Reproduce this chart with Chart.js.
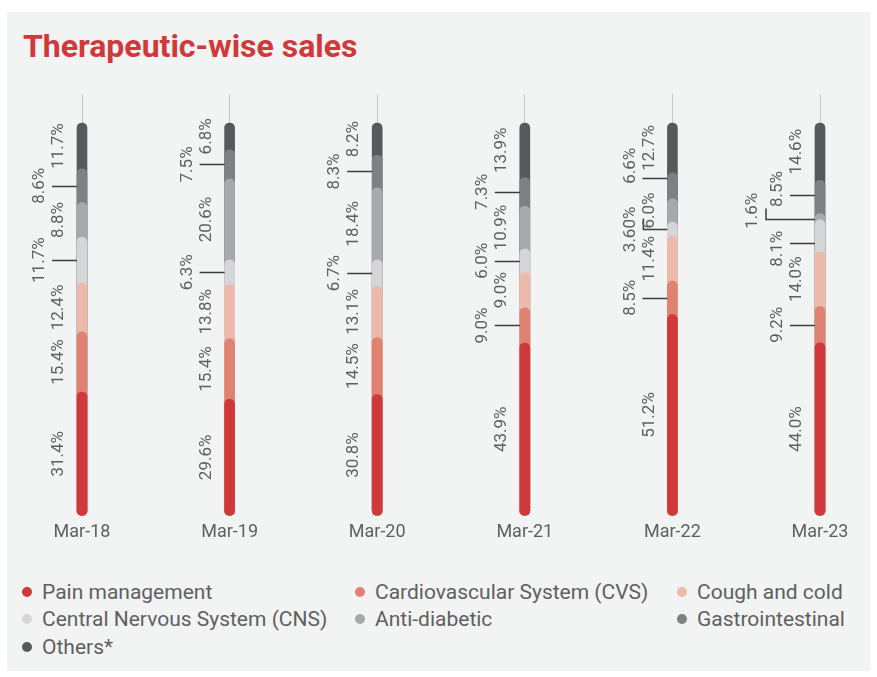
<!DOCTYPE html>
<html>
<head>
<meta charset="utf-8">
<script src="https://cdn.jsdelivr.net/npm/chart.js@4.4.1/dist/chart.umd.min.js"></script>
<style>
    body { margin: 0; background: #ffffff; font-family: Roboto, sans-serif; }
    #panel { position: absolute; left: 7px; top: 12px; width: 863px; height: 659px; background: #f2f3f3; }
    #title { position: absolute; left: 16px; top: 18px; margin: 0; font-size: 32px; line-height: 32px; font-weight: 700; color: #d0393a; }
    #chart-box { position: absolute; left: 0; top: 0; }
    #legend { position: absolute; left: 15px; top: 566px; display: grid; grid-template-columns: 333px 322px auto; }
    .item { display: flex; align-items: center; height: 27.5px; font-size: 21px; color: #5f6062; white-space: nowrap; }
    .dot { width: 10px; height: 10px; border-radius: 50%; margin-right: 10px; flex: none; }
</style>
</head>
<body>
<div id="panel">
    <h1 id="title">Therapeutic-wise sales</h1>
    <div id="chart-box"><canvas id="sales-chart" width="863" height="540"></canvas></div>
    <div id="legend"></div>
</div>
<script>
const periods = ['Mar-18', 'Mar-19', 'Mar-20', 'Mar-21', 'Mar-22', 'Mar-23'];

const painManagement   = [31.4, 29.6, 30.8, 43.9, 51.2, 44.0];
const cardiovascular   = [15.4, 15.4, 14.5, 9.0, 8.5, 9.2];
const coughAndCold     = [12.4, 13.8, 13.1, 9.0, 11.4, 14.0];
const centralNervous   = [11.7, 6.3, 6.7, 6.0, 3.6, 8.1];
const antiDiabetic     = [8.8, 20.6, 18.4, 10.9, 6.0, 1.6];
const gastrointestinal = [8.6, 7.5, 8.3, 7.3, 6.6, 8.5];
const others           = [11.7, 6.8, 8.2, 13.9, 12.7, 14.6];

// bottom of the bar upwards
const series = [
    { name: 'Pain management', values: painManagement, color: '#d0393b' },
    { name: 'Cardiovascular System (CVS)', values: cardiovascular, color: '#e08272' },
    { name: 'Cough and cold', values: coughAndCold, color: '#edb9ab' },
    { name: 'Central Nervous System (CNS)', values: centralNervous, color: '#d6d6d8' },
    { name: 'Anti-diabetic', values: antiDiabetic, color: '#a8a9ac' },
    { name: 'Gastrointestinal', values: gastrointestinal, color: '#7f8083' },
    { name: 'Others*', values: others, color: '#58595b' }
];

// where each value label sits: 0 next to bar, 1 further out with a line,
// 2 further out with a hooked line, 3 outermost with a hooked line
const labelColumns = [
    [0, 0, 0, 1, 0, 1, 0],
    [0, 0, 0, 1, 0, 1, 0],
    [0, 0, 0, 1, 0, 1, 0],
    [0, 1, 0, 1, 0, 1, 0],
    [0, 1, 0, 2, 0, 1, 0],
    [0, 1, 0, 1, 3, 1, 0]
];
const labelOverride = { 'Mar-22|Central Nervous System (CNS)': '3.60%' };
// small nudges (px) so crowded labels don't collide: line / text
const labelShift = {
    'Mar-22|Gastrointestinal': [-8, -20],
    'Mar-23|Gastrointestinal': [-2, -8],
    'Mar-23|Anti-diabetic': [2, -6],
    'Mar-23|Central Nervous System (CNS)': [7, 13]
};

const Y_MAX = 107.4; // leaves room for the thin line above each bar

// each bar is drawn from zero up to its running total, lowest series on top
const datasets = series.map((s, k) => ({
    label: s.name,
    data: periods.map((p, i) => series.slice(0, k + 1).reduce((sum, t) => sum + t.values[i], 0)),
    backgroundColor: s.color,
    barThickness: 10,
    borderRadius: 5,
    borderSkipped: false,
    grouped: false,
    clip: false
}));

const valueLabels = {
    id: 'valueLabels',
    afterDatasetsDraw(chart) {
        const { ctx, scales: { x, y } } = chart;
        const offsets = [-23, -42, -42, -67];
        ctx.save();
        ctx.font = '17px Roboto';
        ctx.fillStyle = '#5f6062';
        ctx.strokeStyle = '#3c3c3c';
        ctx.lineWidth = 1.5;
        ctx.textAlign = 'center';
        ctx.textBaseline = 'middle';
        periods.forEach((p, i) => {
            const cx = x.getPixelForValue(i);
            let base = 0;
            series.forEach((s, k) => {
                const v = s.values[i];
                const key = p + '|' + s.name;
                const shift = labelShift[key] || [0, 0];
                const mid = y.getPixelForValue(base + v / 2);
                base += v;
                const ym = Math.round(mid + shift[0]) + 0.5;
                const col = labelColumns[i][k];
                const tx = cx + offsets[col];
                ctx.beginPath();
                if (col === 1) {
                    ctx.moveTo(cx - 30, ym);
                    ctx.lineTo(cx - 5, ym);
                } else if (col >= 2) {
                    const bx = tx + 13;
                    ctx.moveTo(bx, ym - 11);
                    ctx.lineTo(bx, ym);
                    ctx.lineTo(cx - 5, ym);
                }
                ctx.stroke();
                const text = labelOverride[key] || v.toFixed(1) + '%';
                ctx.save();
                ctx.translate(tx, mid + shift[1]);
                ctx.rotate(-Math.PI / 2);
                ctx.fillText(text, 0, 0);
                ctx.restore();
            });
        });
        ctx.restore();
    }
};

Chart.defaults.font.family = 'Roboto';

const ctx = document.getElementById('sales-chart').getContext('2d');
const salesChart = new Chart(ctx, {
    type: 'bar',
    data: { labels: periods, datasets: datasets },
    options: {
        responsive: false,
        animation: false,
        devicePixelRatio: 1,
        layout: { padding: { left: 75, right: 50, top: 82, bottom: 3 } },
        plugins: {
            legend: { display: false },
            tooltip: { enabled: false }
        },
        scales: {
            x: {
                offset: false,
                grid: { offset: false, color: '#c8c8c8', lineWidth: 1, drawTicks: false },
                border: { display: false },
                ticks: { color: '#5f6062', font: { size: 18 }, padding: 6, maxRotation: 0 }
            },
            y: {
                display: false,
                min: 0,
                max: Y_MAX
            }
        }
    },
    plugins: [valueLabels]
});

const legendBox = document.getElementById('legend');
series.forEach(s => {
    const item = document.createElement('div');
    item.className = 'item';
    item.innerHTML = '<span class="dot" style="background:' + s.color + '"></span>' + s.name;
    legendBox.appendChild(item);
});
</script>
</body>
</html>
